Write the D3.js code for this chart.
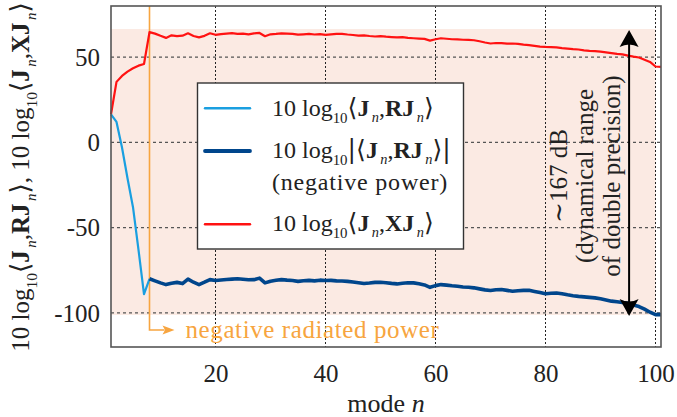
<!DOCTYPE html>
<html><head><meta charset="utf-8">
<script src="https://cdn.jsdelivr.net/npm/d3@7"></script>
<style>
html,body{margin:0;padding:0;background:#fff;}
svg{display:block;}
</style></head><body>
<svg id="chart" width="677" height="417"></svg>
<script>
// Mode range shown on the horizontal axis
const modeFirst = 1;
const modeLast = 101;

// 10 log10 <J_n, R J_n>  (positive radiated power), modes 1..8
const radiatedStart = 1;
const radiated = [16.5, 12, -3, -21, -38, -63, -89, -80];

// 10 log10 |<J_n, R J_n>|  (negative power), modes 8..101
const negativeStart = 8;
const negative = [
  -80.0, -81.2, -82.4, -83.4, -82.6, -82.1, -82.8, -80.2, -82.0, -83.4,
  -82.0, -80.5, -81.0, -80.7, -80.4, -80.2, -80.0, -80.3, -80.6, -80.5,
  -79.6, -82.4, -81.4, -80.9, -80.5, -80.8, -81.0, -81.5, -81.1, -80.9,
  -81.2, -80.8, -81.0, -80.9, -81.2, -81.3, -81.5, -81.9, -82.3, -82.8,
  -82.5, -82.1, -82.0, -82.3, -82.7, -83.0, -82.6, -82.3, -82.4, -82.9,
  -83.6, -85.0, -84.0, -83.4, -83.7, -84.1, -84.4, -84.8, -85.0, -85.3,
  -85.9, -86.5, -86.9, -86.4, -86.3, -86.8, -87.3, -87.0, -86.8, -86.7,
  -87.4, -88.1, -88.8, -88.5, -88.3, -88.8, -89.4, -89.9, -90.3, -90.6,
  -90.9, -91.2, -91.7, -92.4, -93.1, -93.5, -93.9, -94.4, -95.4, -96.3,
  -97.8, -99.6, -101.0, -101.0
];

// 10 log10 <J_n, X J_n>, modes 1..101
const reactiveStart = 1;
const reactive = [
  16.5, 35.5, 39.0, 41.5, 43.5, 45.0, 46.0, 64.7, 63.8, 62.5,
  61.3, 62.8, 62.3, 62.6, 64.0, 62.4, 61.6, 62.5, 64.0, 63.1,
  63.5, 63.8, 64.1, 63.7, 63.8, 63.4, 63.9, 64.2, 62.3, 63.4,
  63.6, 63.9, 63.8, 63.7, 63.2, 63.4, 63.6, 63.3, 63.5, 63.1,
  63.4, 63.6, 63.7, 63.3, 63.0, 62.6, 62.8, 62.4, 62.1, 62.3,
  62.0, 61.8, 61.6, 61.7, 61.3, 61.1, 60.9, 60.7, 59.7, 60.5,
  61.1, 60.8, 60.5, 60.4, 60.2, 60.1, 59.9, 59.3, 58.6, 58.0,
  58.3, 58.2, 57.9, 58.0, 57.8, 57.3, 57.0, 56.6, 56.2, 56.0,
  55.9, 55.7, 55.3, 55.0, 54.7, 54.5, 54.0, 53.7, 53.5, 53.2,
  52.8, 52.4, 51.9, 51.6, 50.9, 50.3, 49.8, 48.5, 47.2, 44.5,
  44.3
];

const xTicks = [20, 40, 60, 80, 100];
const yTicks = [-100, -50, 0, 50];
const yDomain = [-120, 80];

// Dynamic range of double precision (band and double arrow)
const rangeTop = 66.5;
const rangeBottom = -101.2;
const rangeModeEnd = 100;
const rangeArrowMode = 95.2;
// First mode with negative radiated power
const negativeMode = 8;

const C = {
  light: "#1a9fe0",
  dark: "#00468c",
  red: "#ff1212",
  orange: "#f7a540",
  band: "#fbeae3",
  frame: "#555555"
};
const FONT = "'Liberation Serif', 'DejaVu Serif', serif";
const BRACKET_FONT = "'DejaVu Serif', serif";

const svg = d3.select("#chart");
const pL = 111, pR = 661, pT = 6, pB = 347;
const x = d3.scaleLinear().domain([modeFirst, modeLast]).range([pL, pR]);
const y = d3.scaleLinear().domain(yDomain).range([pB, pT]);

const toPts = (vals, start) => vals.map((v, i) => [start + i, v]);
const line = d3.line().x(d => x(d[0])).y(d => y(d[1]));

// Shaded band of the double-precision dynamic range
svg.append("rect")
  .attr("x", x(modeFirst)).attr("y", y(rangeTop))
  .attr("width", x(rangeModeEnd) - x(modeFirst))
  .attr("height", y(rangeBottom) - y(rangeTop))
  .attr("fill", C.band);

// Grid
const grid = svg.append("g");
grid.selectAll("line.h").data(yTicks).join("line")
  .attr("x1", pL).attr("x2", pR)
  .attr("y1", d => y(d)).attr("y2", d => y(d))
  .attr("stroke", "#555").attr("stroke-width", 1.2).attr("stroke-dasharray", "3,3");
grid.selectAll("line.v").data(xTicks).join("line")
  .attr("x1", d => x(d)).attr("x2", d => x(d))
  .attr("y1", pT).attr("y2", pB)
  .attr("stroke", "#222").attr("stroke-width", 1).attr("stroke-dasharray", "2,2");

// Negative radiated power marker
const mx = x(negativeMode);
const my = 330;
svg.append("path")
  .attr("d", `M${mx},${pT}V${my}H${mx + 15}`)
  .attr("fill", "none").attr("stroke", C.orange).attr("stroke-width", 1.6);
svg.append("path")
  .attr("d", `M${mx + 25},${my}L${mx + 13},${my - 4.5}L${mx + 15.5},${my}L${mx + 13},${my + 4.5}Z`)
  .attr("fill", C.orange);
svg.append("text")
  .attr("x", mx + 36).attr("y", 337.5)
  .attr("font-family", FONT).attr("font-size", 25).attr("letter-spacing", 0.6)
  .attr("fill", C.orange)
  .text("negative radiated power");

// Data lines
svg.append("path").datum(toPts(reactive, reactiveStart))
  .attr("d", line).attr("fill", "none").attr("stroke", C.red)
  .attr("stroke-width", 2.2).attr("stroke-linejoin", "round");
svg.append("path").datum(toPts(radiated, radiatedStart))
  .attr("d", line).attr("fill", "none").attr("stroke", C.light)
  .attr("stroke-width", 2.2).attr("stroke-linejoin", "round");
svg.append("path").datum(toPts(negative, negativeStart))
  .attr("d", line).attr("fill", "none").attr("stroke", C.dark)
  .attr("stroke-width", 3.6).attr("stroke-linejoin", "round");

// Rich text: [text, kind] with kind in n (normal), b (bold), s (subscript), si (italic subscript), br (bracket)
function rich(sel, parts, size) {
  let shift = 0;
  parts.forEach(([t, k]) => {
    const ts = sel.append("tspan").text(t);
    let target = 0;
    if (k === "s") target = size * 0.3;
    if (k === "si") target = size * 0.26;
    if (target - shift !== 0) ts.attr("dy", target - shift);
    shift = target;
    if (k === "b") ts.attr("font-weight", "bold");
    if (k === "s") ts.attr("font-size", size * 0.62);
    if (k === "si") ts.attr("font-size", size * 0.6).attr("font-style", "italic").attr("dx", size * 0.1);
    if (k === "br") ts.attr("font-family", BRACKET_FONT).attr("font-size", size * 1.05);
  });
}
const innerR = [["10 log", "n"], ["10", "s"], ["⟨", "br"], ["J", "b"], ["n", "si"], [",", "n"], ["RJ", "b"], ["n", "si"], ["⟩", "br"]];
const innerX = [["10 log", "n"], ["10", "s"], ["⟨", "br"], ["J", "b"], ["n", "si"], [",", "n"], ["XJ", "b"], ["n", "si"], ["⟩", "br"]];
const innerAbs = [["10 log", "n"], ["10", "s"], ["|⟨", "br"], ["J", "b"], ["n", "si"], [",", "n"], ["RJ", "b"], ["n", "si"], ["⟩|", "br"]];

// Legend
const lg = svg.append("g");
lg.append("rect").attr("x", 197.5).attr("y", 83).attr("width", 266).attr("height", 166)
  .attr("fill", "#fff").attr("stroke", "#333").attr("stroke-width", 1.4);
const legendRows = [
  { color: C.light, w: 2.4, ly: 108.3, ty: 115.5, parts: innerR },
  { color: C.dark, w: 3.8, ly: 151, ty: 158, parts: innerAbs },
  { color: C.red, w: 2.4, ly: 224.3, ty: 231, parts: innerX }
];
legendRows.forEach(r => {
  lg.append("line").attr("x1", 205).attr("x2", 250).attr("y1", r.ly).attr("y2", r.ly)
    .attr("stroke", r.color).attr("stroke-width", r.w).attr("stroke-linecap", "round");
  const t = lg.append("text").attr("x", 272).attr("y", r.ty)
    .attr("font-family", FONT).attr("font-size", 24).attr("fill", "#222");
  rich(t, r.parts, 24);
});
lg.append("text").attr("x", 272).attr("y", 190)
  .attr("font-family", FONT).attr("font-size", 24).attr("letter-spacing", 0.8).attr("fill", "#222")
  .text("(negative power)");

// Double arrow for dynamic range
const ax = x(rangeArrowMode);
const ay1 = y(rangeTop) + 1, ay2 = y(rangeBottom) + 1;
svg.append("line").attr("x1", ax).attr("x2", ax).attr("y1", ay1 + 10).attr("y2", ay2 - 10)
  .attr("stroke", "#000").attr("stroke-width", 2);
svg.append("path")
  .attr("d", `M${ax},${ay1}L${ax + 9.5},${ay1 + 17}Q${ax},${ay1 + 12} ${ax - 9.5},${ay1 + 17}Z`)
  .attr("fill", "#000");
svg.append("path")
  .attr("d", `M${ax},${ay2}L${ax + 9.5},${ay2 - 17}Q${ax},${ay2 - 12} ${ax - 9.5},${ay2 - 17}Z`)
  .attr("fill", "#000");
const noteLines = [["∼167 dB", 567], ["(dynamical range", 593], ["of double precision)", 620]];
noteLines.forEach(([t, bx]) => {
  svg.append("text")
    .attr("transform", `translate(${bx},176) rotate(-90)`)
    .attr("text-anchor", "middle")
    .attr("font-family", FONT).attr("font-size", 25).attr("fill", "#222")
    .text(t);
});

// Axes (labels only; frame and grid drawn separately)
const xAxis = svg.append("g").attr("transform", `translate(0,${pB})`)
  .call(d3.axisBottom(x).tickValues(xTicks).tickSize(0).tickPadding(0).tickFormat(d => String(d)));
xAxis.select(".domain").remove();
xAxis.selectAll("text").attr("font-family", FONT).attr("font-size", 25).attr("fill", "#222")
  .attr("y", 35).attr("dy", 0);

const yAxis = svg.append("g").attr("transform", `translate(${pL},0)`)
  .call(d3.axisLeft(y).tickValues(yTicks).tickSize(0).tickPadding(0).tickFormat(d => String(d)));
yAxis.select(".domain").remove();
yAxis.selectAll("text").attr("font-family", FONT).attr("font-size", 25).attr("fill", "#222")
  .attr("x", -11).attr("dy", "0.33em");

// Frame
svg.append("rect").attr("x", pL).attr("y", pT).attr("width", pR - pL).attr("height", pB - pT)
  .attr("fill", "none").attr("stroke", C.frame).attr("stroke-width", 1.6);

// Axis titles
const xt = svg.append("text").attr("x", 386).attr("y", 412)
  .attr("text-anchor", "middle").attr("font-family", FONT).attr("font-size", 26).attr("fill", "#222");
xt.append("tspan").text("mode ");
xt.append("tspan").attr("font-style", "italic").text("n");

const yt = svg.append("text")
  .attr("transform", "translate(29,177) rotate(-90)")
  .attr("text-anchor", "middle").attr("font-family", FONT).attr("font-size", 25).attr("fill", "#222");
rich(yt, [...innerR, [", ", "n"], ...innerX], 25);
</script>
</body></html>
